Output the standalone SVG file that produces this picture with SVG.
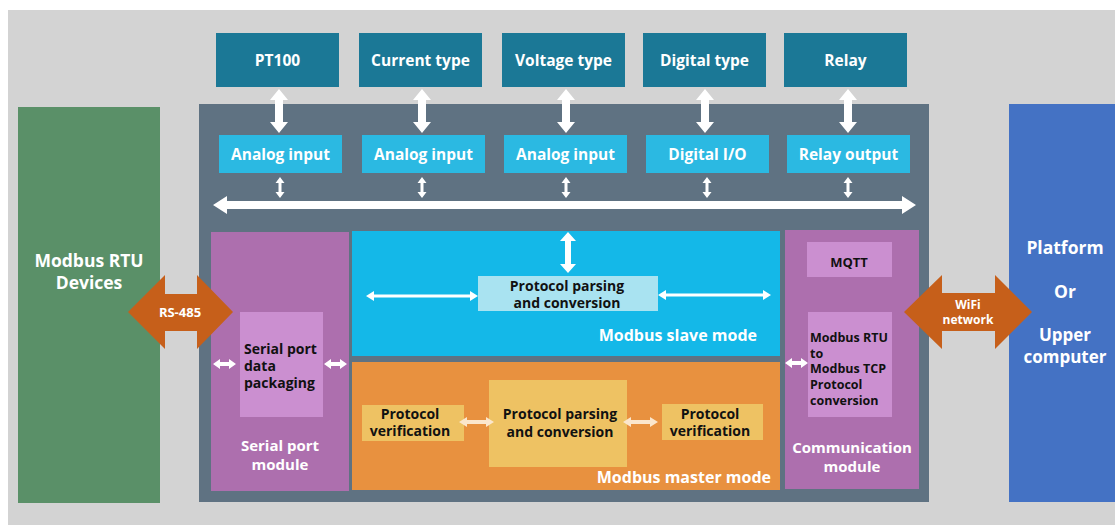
<svg xmlns="http://www.w3.org/2000/svg" width="1115" height="525" viewBox="0 0 1115 525">
<style>
text{font-family:"Open Sans","Noto Sans","Liberation Sans",sans-serif;font-weight:bold}
.w{fill:#ffffff}
.k{fill:#111111}
.c{text-anchor:middle}
.e{text-anchor:end}
.teal{fill:#1b7896}
.cyan{fill:#2bb9e2}
.purple{fill:#ad6fae}
.lpurple{fill:#cb8fd0}
.mbox{fill:#eec263}
.orange{fill:#c65f1a}
.wa{fill:#ffffff}
.ca{fill:#fbe6cc}
</style>
<defs>
<path id="vBig" d="M0,0 L9,11 L4,11 L4,33 L9,33 L0,44 L-9,33 L-4,33 L-4,11 L-9,11 Z"/>
<path id="vSmall" d="M0,0 L4.5,6 L1.5,6 L1.5,15 L4.5,15 L0,21 L-4.5,15 L-1.5,15 L-1.5,6 L-4.5,6 Z"/>
<path id="hShort" d="M0,0 L7,-5 L7,-2 L16,-2 L16,-5 L23,0 L16,5 L16,2 L7,2 L7,5 Z"/>
</defs>
<rect x="8" y="10" width="1107" height="515" fill="#d3d3d3"/>

<g id="modbus-rtu-devices">
<rect x="18" y="107" width="142" height="396" fill="#5a9068"/>
<text class="w c" x="89" y="267" font-size="17.5">Modbus RTU</text>
<text class="w c" x="89" y="289" font-size="17.5">Devices</text>
</g>

<g id="platform">
<rect x="1009" y="104" width="106" height="398" fill="#4472c4"/>
<text class="w c" x="1065" y="254" font-size="17.5">Platform</text>
<text class="w c" x="1065" y="298" font-size="17.5">Or</text>
<text class="w c" x="1065" y="341" font-size="17">Upper</text>
<text class="w c" x="1065" y="363" font-size="17">computer</text>
</g>

<g id="main-panel">
<rect x="199" y="104" width="730" height="398" fill="#5f7282"/>
</g>

<g id="pt100"><rect class="teal" x="216" y="33" width="123" height="54"/><text class="w c" x="277.5" y="66" font-size="15.5">PT100</text></g>
<g id="current-type"><rect class="teal" x="359" y="33" width="123" height="54"/><text class="w c" x="420.5" y="66" font-size="15.5">Current type</text></g>
<g id="voltage-type"><rect class="teal" x="502" y="33" width="123" height="54"/><text class="w c" x="563.5" y="66" font-size="15.5">Voltage type</text></g>
<g id="digital-type"><rect class="teal" x="643" y="33" width="123" height="54"/><text class="w c" x="704.5" y="66" font-size="15.5">Digital type</text></g>
<g id="relay"><rect class="teal" x="784" y="33" width="123" height="54"/><text class="w c" x="845.5" y="66" font-size="15.5">Relay</text></g>

<g id="analog-input-1"><rect class="cyan" x="219" y="135" width="123" height="38"/><text class="w c" x="280.5" y="160" font-size="15.5">Analog input</text></g>
<g id="analog-input-2"><rect class="cyan" x="362" y="135" width="123" height="38"/><text class="w c" x="423.5" y="160" font-size="15.5">Analog input</text></g>
<g id="analog-input-3"><rect class="cyan" x="504" y="135" width="123" height="38"/><text class="w c" x="565.5" y="160" font-size="15.5">Analog input</text></g>
<g id="digital-io"><rect class="cyan" x="646" y="135" width="123" height="38"/><text class="w c" x="707.5" y="160" font-size="15.5">Digital I/O</text></g>
<g id="relay-output"><rect class="cyan" x="787" y="135" width="123" height="38"/><text class="w c" x="848.5" y="160" font-size="15.5">Relay output</text></g>

<g id="serial-port-module">
<rect class="purple" x="211" y="232" width="138" height="259"/>
<text class="w c" x="280" y="451" font-size="15">Serial port</text>
<text class="w c" x="280" y="470" font-size="15">module</text>
</g>
<g id="serial-port-data-packaging">
<rect class="lpurple" x="240" y="312" width="83" height="105"/>
<text class="k" x="244" y="354" font-size="14">Serial port</text>
<text class="k" x="244" y="371" font-size="14">data</text>
<text class="k" x="244" y="388" font-size="14">packaging</text>
</g>

<g id="modbus-slave-mode">
<rect x="352" y="231" width="428" height="125" fill="#14b8e8"/>
<text class="w e" x="757" y="341" font-size="16">Modbus slave mode</text>
</g>
<g id="slave-protocol-parsing">
<rect x="478" y="276" width="180" height="35" fill="#a9e3f1"/>
<text class="k c" x="567" y="291" font-size="14">Protocol parsing</text>
<text class="k c" x="567" y="308" font-size="14">and conversion</text>
</g>

<g id="modbus-master-mode">
<rect x="352" y="362" width="428" height="128" fill="#e8913f"/>
<text class="w e" x="771" y="483" font-size="16">Modbus master mode</text>
</g>
<g id="master-verification-left">
<rect class="mbox" x="362" y="405" width="102" height="36"/>
<text class="k c" x="410" y="419" font-size="14">Protocol</text>
<text class="k c" x="410" y="436" font-size="14">verification</text>
</g>
<g id="master-protocol-parsing">
<rect class="mbox" x="489" y="380" width="138" height="87"/>
<text class="k c" x="560" y="419" font-size="14">Protocol parsing</text>
<text class="k c" x="560" y="437" font-size="14">and conversion</text>
</g>
<g id="master-verification-right">
<rect class="mbox" x="662" y="404" width="101" height="36"/>
<text class="k c" x="710" y="419" font-size="14">Protocol</text>
<text class="k c" x="710" y="436" font-size="14">verification</text>
</g>

<g id="communication-module">
<rect class="purple" x="785" y="230" width="134" height="259"/>
<text class="w c" x="852" y="453" font-size="15">Communication</text>
<text class="w c" x="852" y="472" font-size="15">module</text>
</g>
<g id="mqtt">
<rect class="lpurple" x="807" y="242" width="85" height="35"/>
<text class="k c" x="849" y="267" font-size="13">MQTT</text>
</g>
<g id="modbus-rtu-tcp">
<rect class="lpurple" x="808" y="312" width="84" height="105"/>
<text class="k" x="810" y="342" font-size="12.5">Modbus RTU</text>
<text class="k" x="810" y="358" font-size="12.5">to</text>
<text class="k" x="810" y="373" font-size="12.5">Modbus TCP</text>
<text class="k" x="810" y="389" font-size="12.5">Protocol</text>
<text class="k" x="810" y="405" font-size="12.5">conversion</text>
</g>

<g id="connectors">
<use href="#vBig" class="wa" transform="translate(279,89)"/>
<use href="#vBig" class="wa" transform="translate(422,89)"/>
<use href="#vBig" class="wa" transform="translate(566,89)"/>
<use href="#vBig" class="wa" transform="translate(705,89)"/>
<use href="#vBig" class="wa" transform="translate(848,89)"/>
<use href="#vSmall" class="wa" transform="translate(280,177)"/>
<use href="#vSmall" class="wa" transform="translate(422,177)"/>
<use href="#vSmall" class="wa" transform="translate(566,177)"/>
<use href="#vSmall" class="wa" transform="translate(707,177)"/>
<use href="#vSmall" class="wa" transform="translate(848,177)"/>
<polygon class="wa" points="213,205 227,196 227,201 902,201 902,196 916,205 902,214 902,209 227,209 227,214"/>
<polygon class="wa" points="568,232 576,241 571,241 571,264 576,264 568,273 560,264 565,264 565,241 560,241"/>
<polygon class="wa" points="366,296 374,291 374,294.5 470,294.5 470,291 478,296 470,301 470,297.5 374,297.5 374,301"/>
<polygon class="wa" points="658,295 666,290 666,293.5 763,293.5 763,290 771,295 763,300 763,296.5 666,296.5 666,300"/>
<use href="#hShort" class="wa" transform="translate(213,364)"/>
<use href="#hShort" class="wa" transform="translate(324,364)"/>
<use href="#hShort" class="wa" transform="translate(785,363)"/>
<polygon class="ca" points="459,422 467,417 467,420 486,420 486,417 494,422 486,427 486,424 467,424 467,427"/>
<polygon class="ca" points="623,422 631,417 631,420 650,420 650,417 658,422 650,427 650,424 631,424 631,427"/>
<g id="rs485">
<polygon class="orange" points="128,312 165,275 165,294 197,294 197,275 233,312 197,349 197,331 165,331 165,349"/>
<text class="w c" x="180" y="317" font-size="13">RS-485</text>
</g>
<g id="wifi">
<polygon class="orange" points="904,312 942,275 942,293 995,293 995,275 1032,312 995,349 995,331 942,331 942,349"/>
<text class="w c" x="968" y="309" font-size="12">WiFi</text>
<text class="w c" x="968" y="324" font-size="12">network</text>
</g>
</g>
</svg>
